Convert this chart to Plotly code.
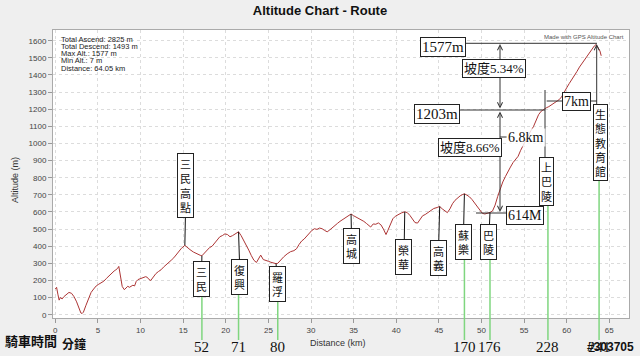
import plotly.graph_objects as go

# ---------------- data ----------------
km = [0.0, 0.15, 0.3, 0.45, 0.6, 0.8, 1.0, 1.3, 1.6, 1.9, 2.2, 2.5, 2.75, 3.0, 3.15, 3.3, 3.6, 3.9,
      4.2, 4.5, 4.8, 5.1, 5.4, 5.7, 6.0, 6.3, 6.6, 6.9, 7.1, 7.3, 7.45, 7.55, 7.7, 7.85, 8.1, 8.3,
      8.5, 8.7, 8.9, 9.1, 9.3, 9.5, 9.7, 10.0, 10.3, 10.6, 10.8, 11.0, 11.2, 11.5, 11.8, 12.1, 12.4,
      12.7, 13.0, 13.3, 13.6, 13.9, 14.2, 14.5, 14.8, 15.2, 15.5, 15.8, 16.2, 16.6, 17.0, 17.2, 17.5,
      17.8, 18.1, 18.4, 18.7, 19.0, 19.3, 19.6, 19.9, 20.2, 20.5, 20.8, 21.1, 21.5, 21.8, 22.1, 22.4,
      22.7, 23.0, 23.3, 23.6, 23.85, 24.1, 24.4, 24.7, 25.0, 25.3, 25.6, 25.9, 26.1, 26.4, 26.8, 27.2,
      27.6, 28.0, 28.3, 28.6, 28.9, 29.2, 29.5, 29.8, 30.1, 30.4, 30.7, 31.0, 31.3, 31.6, 31.9, 32.2,
      32.5, 32.8, 33.1, 33.4, 33.7, 34.0, 34.3, 34.7, 35.0, 35.3, 35.6, 35.9, 36.2, 36.5, 36.8, 37.0,
      37.3, 37.6, 37.9, 38.2, 38.5, 38.8, 39.0, 39.3, 39.6, 39.9, 40.2, 40.6, 41.0, 41.3, 41.6, 41.9,
      42.2, 42.5, 42.8, 43.1, 43.4, 43.8, 44.1, 44.4, 44.8, 45.1, 45.4, 45.7, 46.0, 46.3, 46.6, 46.9,
      47.2, 47.5, 47.8, 48.0, 48.3, 48.6, 48.9, 49.2, 49.5, 49.8, 50.1, 50.4, 50.7, 51.0, 51.3, 51.6,
      51.9, 52.2, 52.5, 52.8, 53.1, 53.4, 53.7, 54.0, 54.3, 54.6, 54.9, 55.2, 55.5, 55.8, 56.1, 56.4,
      56.7, 57.0, 57.3, 57.6, 57.9, 58.2, 58.5, 58.8, 59.1, 59.4, 59.7, 60.0, 60.3, 60.6, 60.9, 61.2,
      61.5, 61.8, 62.1, 62.4, 62.7, 63.0, 63.25, 63.45, 63.7, 63.9, 64.05]
alt = [150, 160, 120, 85, 100, 92, 105, 120, 130, 125, 105, 75, 40, 10, 7, 15, 55, 95,
       130, 150, 168, 178, 188, 196, 212, 228, 242, 255, 262, 270, 282, 250, 195, 165, 146, 155,
       166, 160, 164, 172, 168, 195, 205, 210, 214, 222, 218, 205, 200, 222, 240, 252, 262,
       278, 290, 302, 318, 332, 352, 370, 388, 405, 395, 380, 366, 355, 347, 344, 360,
       372, 392, 400, 420, 435, 455, 462, 472, 468, 455, 462, 472, 484, 462, 436, 405,
       377, 345, 318, 305, 325, 348, 322, 315, 312, 306, 302, 298, 300, 318, 338, 355,
       368, 374, 385, 410, 430, 442, 460, 478, 492, 502, 498, 506, 502, 492, 484, 495,
       506, 520, 533, 545, 556, 566, 578, 588, 578, 570, 560, 552, 545, 533, 520, 512,
       530, 528, 536, 525, 500, 468, 490, 530, 560, 575, 585, 594, 601, 596, 580, 555,
       538, 535, 560, 578, 585, 598, 610, 620, 626, 632, 618, 608, 596, 618, 648, 668,
       682, 694, 702, 706, 698, 688, 672, 652, 625, 605, 592, 588, 592, 597, 606, 640,
       690, 740, 775, 806, 838, 862, 888, 905, 925, 960, 990, 1020, 1050, 1075, 1098, 1135,
       1168, 1188, 1200, 1208, 1215, 1225, 1232, 1242, 1255, 1272, 1302, 1325, 1350, 1372, 1395, 1420,
       1446, 1468, 1492, 1515, 1536, 1557, 1570, 1577, 1560, 1540, 1512]

stats = ["Total Ascend: 2825 m", "Total Descend: 1493 m", "Max Alt.: 1577 m",
         "Min Alt.: 7 m", "Distance: 64.05 km"]

labels = ["三民高點", "三民", "復興", "羅浮", "高城", "榮華", "高義", "蘇樂", "巴陵"]
label_km = [15.2, 17.2, 21.5, 25.9, 34.7, 41.0, 45.1, 48.0, 51.0]
label_alt = [405, 344, 484, 298, 588, 601, 632, 706, 597]

times = [52, 71, 80, 170, 176, 228, 241]
time_km = [17.2, 21.5, 26.1, 48.0, 51.0, 57.8, 63.8]

x_ticks = list(range(0, 70, 5))
y_ticks = list(range(0, 1700, 100))

# ---------------- geometry ----------------
W, H = 640, 356
L, R, T, B = 53, 629, 30, 318
X0, X1 = -0.27, 67.31
Y0, Y1 = -19.3, 1662.5


def dpx(k):
    return L + (k - X0) / (X1 - X0) * (R - L)


def dpy(a):
    return B - (a - Y0) / (Y1 - Y0) * (B - T)


def px(x):
    return (x - L) / (R - L)


def py(y):
    return (B - y) / (B - T)


CJK = "Noto Sans CJK TC"
SERIF = "Liberation Serif, Noto Sans CJK TC"
SANS = "Liberation Sans, Arial"

fig = go.Figure(go.Scatter(x=km, y=alt, mode="lines",
                           line=dict(color="#ad3535", width=1), hoverinfo="skip"))

shapes = []
annos = []

# stats text
for i, s in enumerate(stats):
    annos.append(dict(x=px(59), y=py(39 + i * 7.3), xref="paper", yref="paper", text=s,
                      showarrow=False, xanchor="left", yanchor="middle",
                      font=dict(family=SANS, size=7.5, color="#222")))

annos.append(dict(x=px(626), y=py(37), xref="paper", yref="paper",
                  text="Made with GPS Altitude Chart", showarrow=False,
                  xanchor="right", yanchor="middle", font=dict(family=SANS, size=6, color="#555")))

# place labels
box_centers = [(186, 186), (201.5, 279), (240, 277.5), (277.5, 284), (351.7, 246),
               (404, 257), (438.3, 258), (463.3, 241.7), (488.7, 242)]
box_bottoms = {}
for name, k, a, (bx, by) in zip(labels, label_km, label_alt, box_centers):
    annos.append(dict(x=k, y=a, xref="x", yref="y", text="<br>".join(name),
                      showarrow=True, arrowhead=0, arrowwidth=1, arrowcolor="#111",
                      ax=bx - dpx(k), ay=by - dpy(a), axref="pixel", ayref="pixel",
                      font=dict(family=CJK, size=11, color="#111"), bgcolor="white",
                      bordercolor="#222", borderwidth=1, borderpad=2))
    box_bottoms[name] = by + len(name) * 14.3 / 2 + 3

# green lines + times
green_tops = [box_bottoms["三民"], box_bottoms["復興"], box_bottoms["羅浮"],
              box_bottoms["蘇樂"], box_bottoms["巴陵"], 202, 177]
for k, t, gt in zip(time_km, times, green_tops):
    shapes.append(dict(type="line", xref="x", yref="paper", x0=k, x1=k,
                       y0=py(gt), y1=py(340), line=dict(color="#7fd67f", width=1.5)))
    annos.append(dict(x=k, y=py(347), xref="x", yref="paper", text=str(t), showarrow=False,
                      xanchor="center", yanchor="middle",
                      font=dict(family=SERIF, size=15, color="#111")))

annos.append(dict(x=px(3), y=py(340), xref="paper", yref="paper", text="<b>騎車時間</b>",
                  showarrow=False, xanchor="left", yanchor="middle",
                  font=dict(family=CJK, size=13, color="#111")))
annos.append(dict(x=px(60), y=py(343), xref="paper", yref="paper", text="<b>分鐘</b>",
                  showarrow=False, xanchor="left", yanchor="middle",
                  font=dict(family=CJK, size=12, color="#111")))
annos.append(dict(x=px(610), y=py(347), xref="paper", yref="paper", text="<b>#303705</b>",
                  showarrow=False, xanchor="center", yanchor="middle",
                  font=dict(family=SANS, size=12, color="#111")))

# right-side dimension annotations
def pline(x0, y0, x1, y1, color="#333", w=1):
    shapes.append(dict(type="line", xref="paper", yref="paper", x0=px(x0), y0=py(y0),
                       x1=px(x1), y1=py(y1), line=dict(color=color, width=w)))


pline(465, 43.3, 597, 43.3)
pline(453, 110, 545, 110)
pline(500, 137, 507, 137)
pline(476, 213, 507, 213)
pline(545, 90, 545, 161)
pline(546.7, 101, 563, 101)
pline(590.7, 101, 597, 101)


def dim_arrow(x, yhead, ytail):
    annos.append(dict(x=px(x), y=py(yhead), xref="paper", yref="paper", text="",
                      showarrow=True, arrowhead=5, startarrowhead=5, arrowside="end+start",
                      arrowsize=1, arrowwidth=1, arrowcolor="#333",
                      ax=0, ay=ytail - yhead, axref="pixel", ayref="pixel"))


dim_arrow(500, 44, 110)
dim_arrow(500, 212, 110)
annos.append(dict(x=px(596.7), y=py(44), xref="paper", yref="paper", text="",
                  showarrow=True, arrowhead=5, arrowsize=1, arrowwidth=1, arrowcolor="#333",
                  ax=0, ay=64, axref="pixel", ayref="pixel"))


def box(x, y, text, size=14, family=SERIF, border=True):
    annos.append(dict(x=px(x), y=py(y), xref="paper", yref="paper", text=text,
                      showarrow=False, xanchor="center", yanchor="middle",
                      font=dict(family=family, size=size, color="#111"),
                      bgcolor="white" if border else "rgba(255,255,255,0.8)",
                      bordercolor="#222" if border else "rgba(0,0,0,0)",
                      borderwidth=1, borderpad=1))


box(443, 46.7, "1577m", 15)
box(494, 69, "坡度5.34%", 13)
box(437, 114, "1203m", 15)
box(526, 137.5, "6.8km", 14, border=False)
box(470, 147.5, "坡度8.66%", 13)
box(525, 215, "614M", 14)
box(576.7, 101, "7km", 14)
box(546.3, 181, "<br>".join("上巴陵"), 11, CJK)
box(600, 142.8, "<br>".join("生態教育館"), 11, CJK)

# axis titles
annos.append(dict(x=px(15), y=py(180), xref="paper", yref="paper", text="Altitude (m)",
                  textangle=-90, showarrow=False, xanchor="center", yanchor="middle",
                  font=dict(family=SANS, size=9, color="#333")))
annos.append(dict(x=px(338), y=py(343), xref="paper", yref="paper", text="Distance (km)",
                  showarrow=False, xanchor="center", yanchor="middle",
                  font=dict(family=SANS, size=9, color="#333")))

fig.update_layout(
    width=W, height=H, template="none",
    margin=dict(l=L, r=W - R, t=T, b=H - B, pad=0),
    paper_bgcolor="#efefef", plot_bgcolor="white",
    showlegend=False,
    title=dict(text="<b>Altitude Chart - Route</b>", x=0.5, xref="container",
               y=1 - 10 / H, yref="container", xanchor="center", yanchor="middle",
               font=dict(family=SANS, size=13, color="#111")),
    xaxis=dict(range=[X0, X1], tickvals=x_ticks, ticks="outside", ticklen=4,
               tickcolor="#999", tickfont=dict(family=SANS, size=8, color="#444"),
               showgrid=True, gridcolor="#dcdcdc", griddash="dot", gridwidth=1,
               zeroline=False, showline=True, linecolor="#aaa", mirror=True,
               automargin=False, fixedrange=True),
    yaxis=dict(range=[Y0, Y1], tickvals=y_ticks, ticks="outside", ticklen=4,
               tickcolor="#999", tickfont=dict(family=SANS, size=8, color="#444"),
               showgrid=True, gridcolor="#dcdcdc", griddash="dot", gridwidth=1,
               zeroline=False, showline=True, linecolor="#aaa", mirror=True,
               automargin=False, fixedrange=True),
    shapes=shapes, annotations=annos,
)

fig.write_html("out.html", config={"displayModeBar": False},
               post_script="document.body.style.margin='0px';document.body.style.background='#efefef';")
